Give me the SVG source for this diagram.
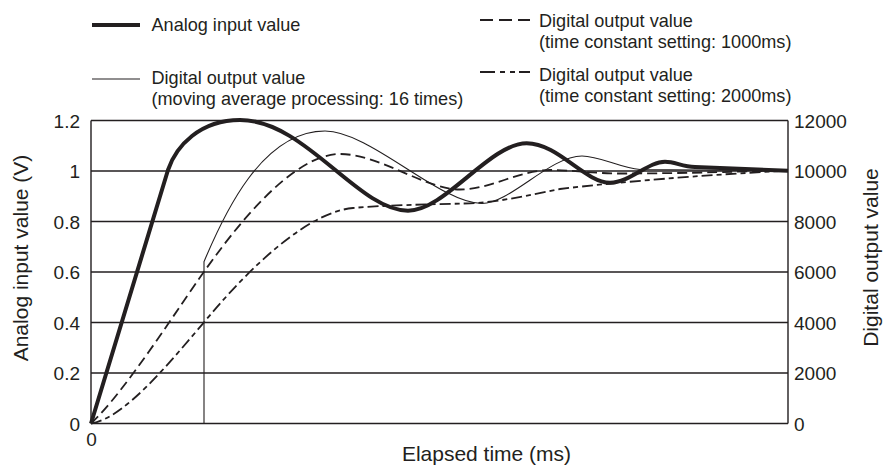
<svg xmlns="http://www.w3.org/2000/svg" width="892" height="468" viewBox="0 0 892 468">
<style>
text{font-family:"Liberation Sans",Arial,sans-serif;fill:#231f20}
.lg{font-size:18.1px}
.tk{font-size:19px}
.tl{font-size:21px}
.grid{stroke:#231f20;stroke-width:1.4;fill:none}
.an{stroke:#231f20;stroke-width:4;fill:none;stroke-linejoin:round}
.ma{stroke:#231f20;stroke-width:1.1;fill:none}
.d1{stroke:#231f20;stroke-width:1.8;fill:none;stroke-dasharray:10 5}
.d2{stroke:#231f20;stroke-width:1.8;fill:none;stroke-dasharray:11 4 5 4}
</style>
<rect width="892" height="468" fill="#fff"/>
<g id="legend">
  <g id="legend-analog">
    <line x1="92" y1="25" x2="140" y2="25" class="an"/>
    <text class="lg" x="151.5" y="30.5">Analog input value</text>
  </g>
  <g id="legend-ma">
    <line x1="92" y1="79" x2="140" y2="79" class="ma"/>
    <text class="lg" x="151.5" y="84">Digital output value</text>
    <text class="lg" x="151.5" y="105">(moving average processing: 16 times)</text>
  </g>
  <g id="legend-tc1000">
    <path d="M480,20h13M499,20h13M518,20h12" stroke="#231f20" stroke-width="1.8"/>
    <text class="lg" x="539" y="26.5">Digital output value</text>
    <text class="lg" x="539" y="47.5">(time constant setting: 1000ms)</text>
  </g>
  <g id="legend-tc2000">
    <path d="M480,72h15M500,72h5M510,72h5M519,72h11" stroke="#231f20" stroke-width="1.8"/>
    <text class="lg" x="539" y="80.5">Digital output value</text>
    <text class="lg" x="539" y="101.5">(time constant setting: 2000ms)</text>
  </g>
</g>
<g id="grid">
  <path class="grid" d="M91,120.5H788M91,171H788M91,221.5H788M91,272H788M91,322.5H788M91,373H788M91,423.5H788M91,120.5V423.5M788,120.5V423.5"/>
</g>
<g id="left-axis">
  <text class="tk" text-anchor="end" x="80" y="127.5">1.2</text>
  <text class="tk" text-anchor="end" x="80" y="178">1</text>
  <text class="tk" text-anchor="end" x="80" y="228.5">0.8</text>
  <text class="tk" text-anchor="end" x="80" y="279">0.6</text>
  <text class="tk" text-anchor="end" x="80" y="329.5">0.4</text>
  <text class="tk" text-anchor="end" x="80" y="380">0.2</text>
  <text class="tk" text-anchor="end" x="80" y="430.5">0</text>
  <text class="tl" text-anchor="middle" transform="translate(28,258) rotate(-90)">Analog input value (V)</text>
</g>
<g id="right-axis">
  <text class="tk" x="794" y="127.5">12000</text>
  <text class="tk" x="794" y="178">10000</text>
  <text class="tk" x="794" y="228.5">8000</text>
  <text class="tk" x="794" y="279">6000</text>
  <text class="tk" x="794" y="329.5">4000</text>
  <text class="tk" x="794" y="380">2000</text>
  <text class="tk" x="794" y="430.5">0</text>
  <text class="tl" text-anchor="middle" transform="translate(877.5,257.5) rotate(-90)">Digital output value</text>
</g>
<g id="x-axis">
  <text class="tk" text-anchor="middle" x="91.5" y="446">0</text>
  <text class="tl" text-anchor="middle" x="486.5" y="461">Elapsed time (ms)</text>
</g>
<g id="series">
  <path id="tc2000" class="d2" d="M91,423.5C125,418 170,362 204,322.3C235,285 300,213 353,208C385,205 430,204.5 470,203.3C500,202 530,195 560,189C620,182 700,175 788,170.7"/>
  <path id="tc1000" class="d1" d="M91,423.5C125,392 180,305 204,271.7C230,235.3 290,154 340,154C380,154 425,189.5 460,189.5C490,189.5 520,170 550,170C570,170 595,173.5 620,173.5C690,173.5 750,171 788,170.7"/>
  <path id="moving-average" class="ma" d="M91,423.5H204V261.7C224,214 262,131 325,131C370,131 440,203.5 482,203.5C510,203.5 550,156 582,156C600,156 620,168 640,169.5L788,170.7"/>
  <path id="analog" class="an" d="M91,423.5L168,170C176,146 200,120 240,120C305,120 358,210.7 408,210.7C445,210.7 490,143.3 526.7,143.3C558,143.3 585,182.7 610,182.7C630,182.7 648,161.7 665,161.7C675,161.7 682,166.5 695,167L788,170.7"/>
</g>
</svg>
